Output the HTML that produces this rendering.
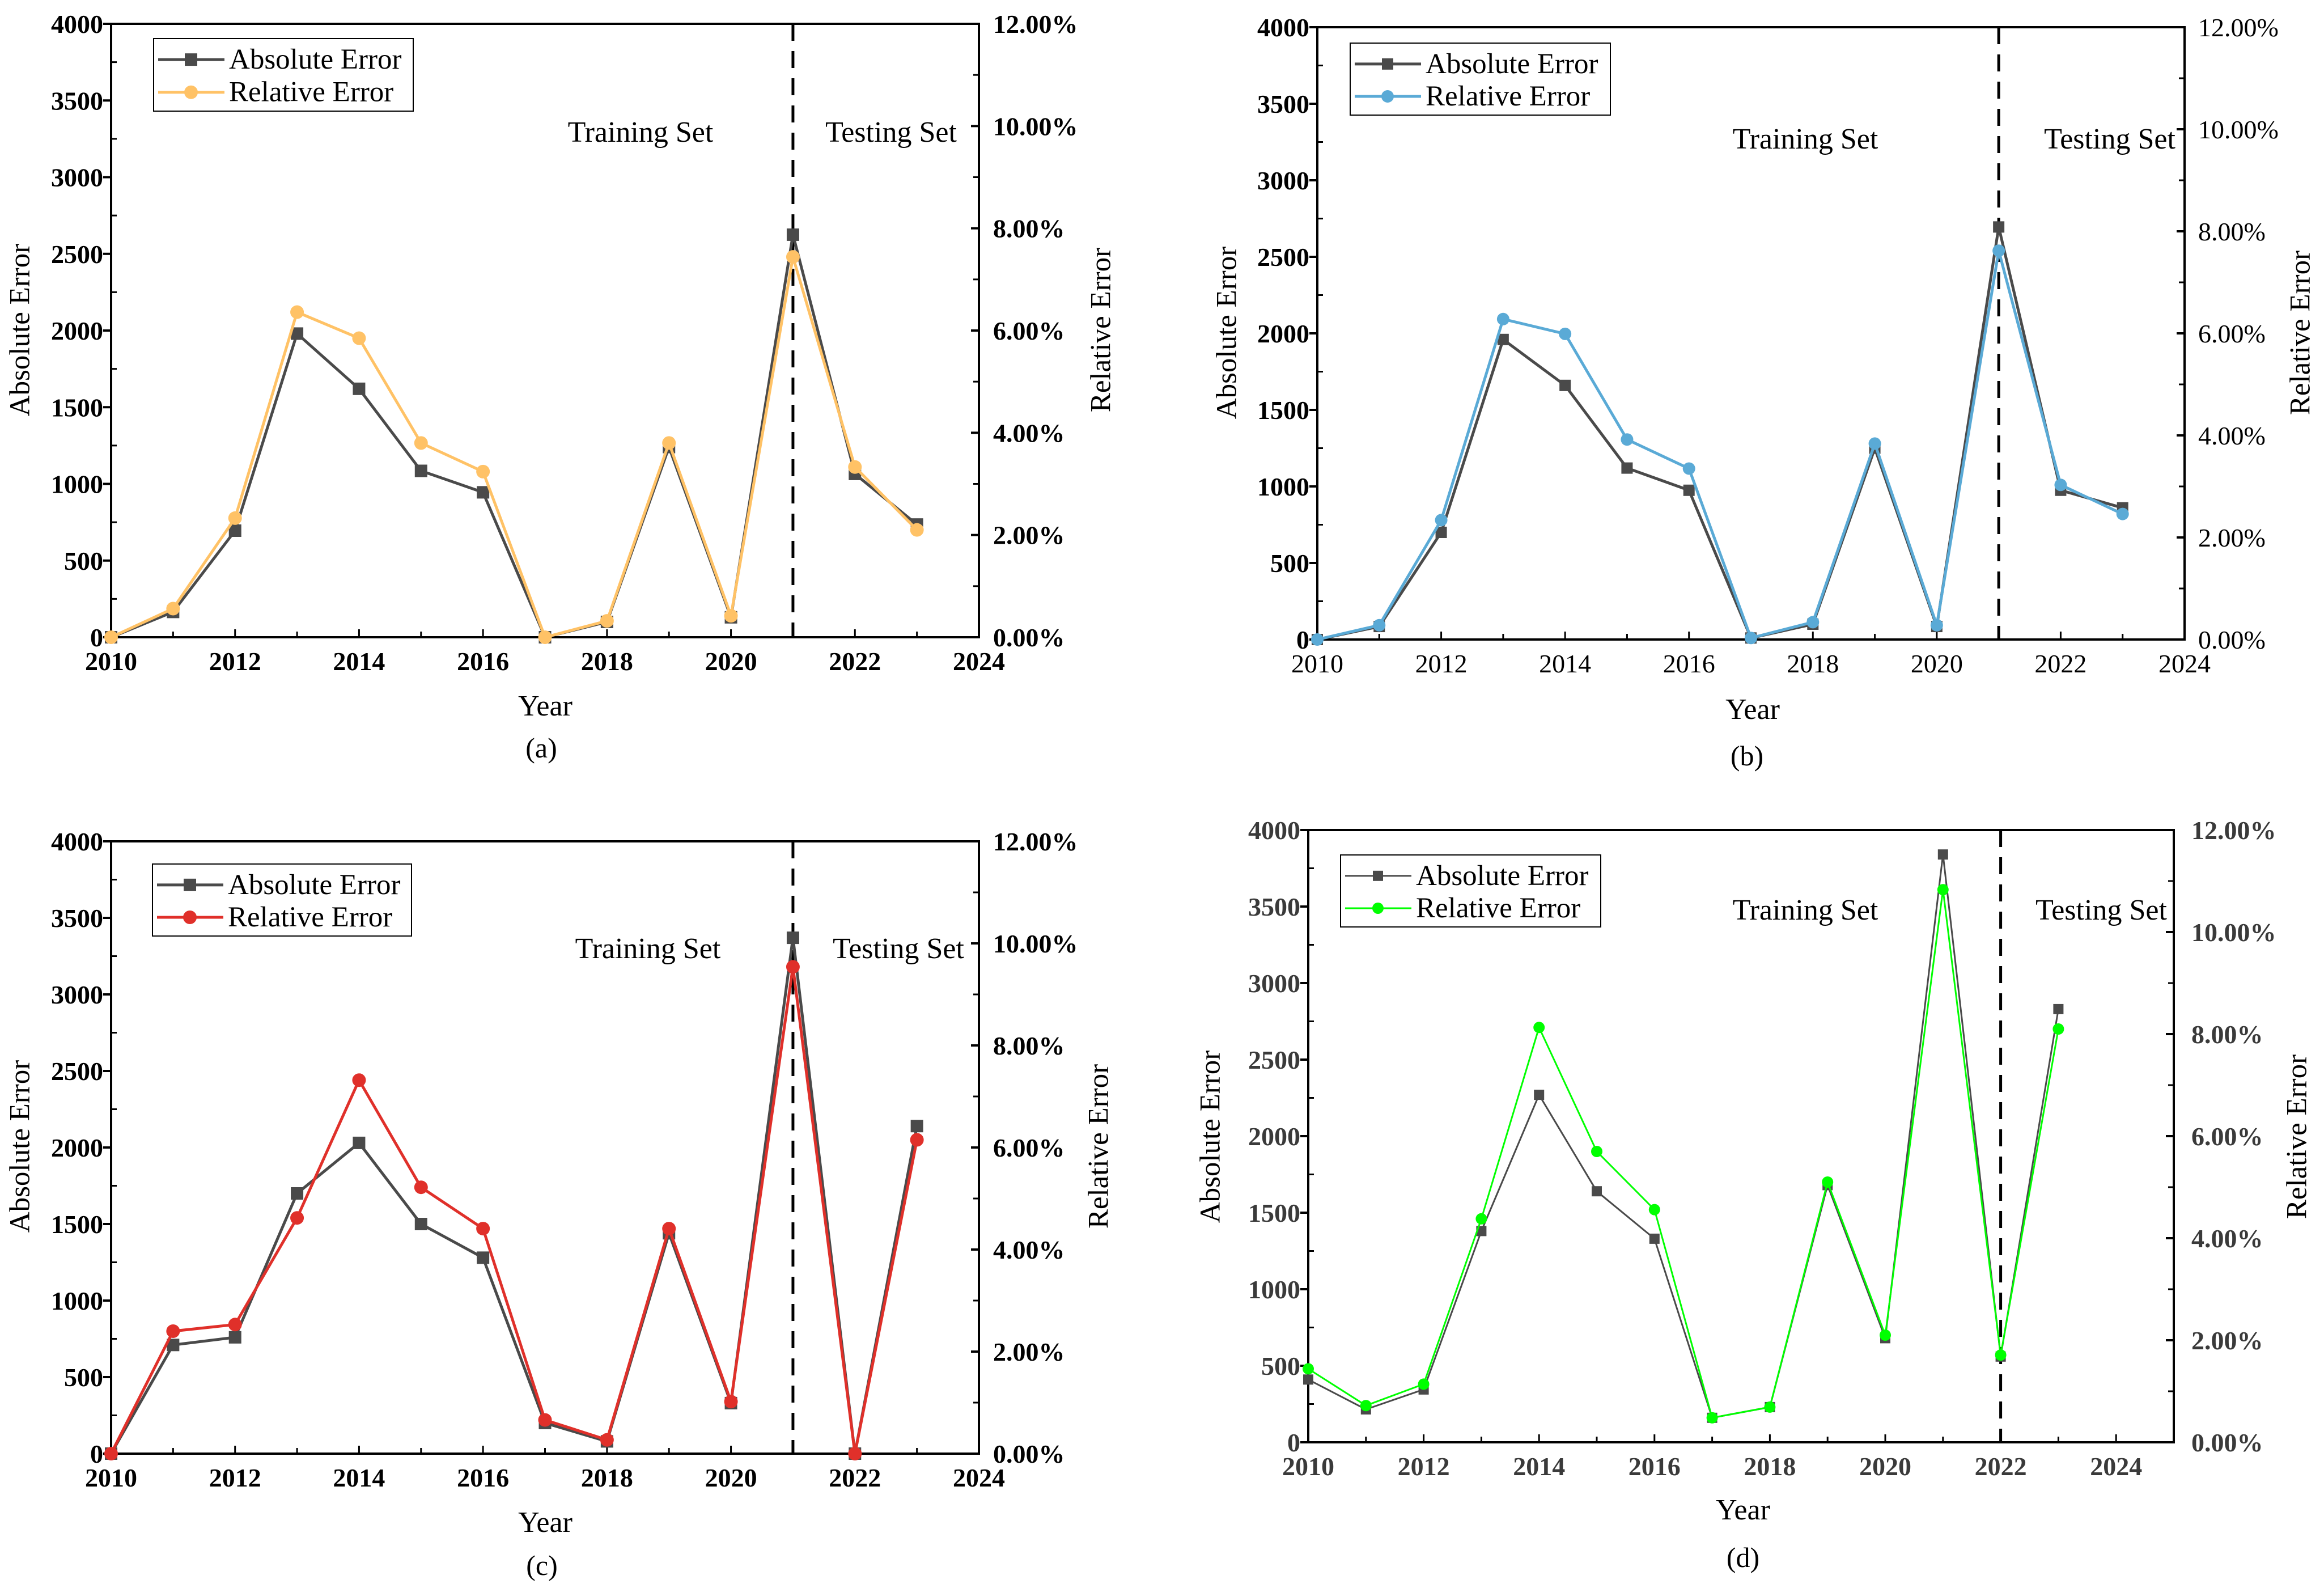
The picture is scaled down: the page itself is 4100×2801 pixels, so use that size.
<!DOCTYPE html>
<html><head><meta charset="utf-8"><style>
html,body{margin:0;padding:0;background:#fff}
svg{display:block;font-family:"Liberation Serif",serif}
</style></head><body>
<svg id="fig" width="4100" height="2801" viewBox="0 0 4100 2801" xmlns="http://www.w3.org/2000/svg"></svg>
<script>
const years=[2010,2011,2012,2013,2014,2015,2016,2017,2018,2019,2020,2021,2022,2023];
const absA=[0,165,695,1980,1620,1085,945,0,100,1240,130,2625,1065,735];
const relA=[0,0.56,2.33,6.36,5.85,3.8,3.24,0,0.32,3.8,0.42,7.44,3.33,2.1];
const absB=[0,85,700,1960,1660,1120,975,10,100,1250,85,2695,975,860];
const relB=[0,0.28,2.34,6.28,5.99,3.92,3.35,0.03,0.34,3.84,0.28,7.62,3.03,2.46];
const absC=[0,710,760,1700,2030,1500,1280,200,80,1440,330,3370,0,2140];
const relC=[0,2.4,2.53,4.62,7.32,5.22,4.41,0.66,0.27,4.41,1.02,9.54,0,6.15];
const absD=[410,215,345,1380,2270,1640,1330,160,230,1680,680,3840,560,2830];
const relD=[1.44,0.72,1.14,4.38,8.13,5.7,4.56,0.48,0.69,5.1,2.1,10.83,1.71,8.1];
const leftTicks=[0,500,1000,1500,2000,2500,3000,3500,4000];
const rightTicks=["0.00%","2.00%","4.00%","6.00%","8.00%","10.00%","12.00%"];
const xTicks=[2010,2012,2014,2016,2018,2020,2022,2024];

const NS="http://www.w3.org/2000/svg";
const svg=document.getElementById('fig');
function mk(tag,attrs,parent,text){const e=document.createElementNS(NS,tag);for(const k in attrs)e.setAttribute(k,attrs[k]);if(text!==undefined)e.textContent=text;(parent||svg).appendChild(e);return e;}

const panels=[
 {id:'a',L:196,R:1727,T:42,B:1124,xmax:2024,abs:absA,rel:relA,col:'#ffc266',lw:5,ms:11,div:2021,
  leg:[271,68,729,196],tr:[1130,250],te:[1572,250],at:[40,582],rt:[1947,582],yr:[962,1262],cap:[955,1336],rx:1752,lbold:true,rbold:true,xbold:true,tc:'#000'},
 {id:'b',L:2324,R:3854,T:48,B:1128,xmax:2024,abs:absB,rel:relB,col:'#5aaad6',lw:5,ms:10,div:2021,
  leg:[2382,76,2841,203],tr:[3185,262],te:[3722,262],at:[2169,587],rt:[4063,587],yr:[3092,1268],cap:[3082,1350],rx:3878,lbold:true,rbold:false,xbold:false,tc:'#000'},
 {id:'c',L:196,R:1727,T:1484,B:2564,xmax:2024,abs:absC,rel:relC,col:'#e0302a',lw:5,ms:11,div:2021,
  leg:[269,1524,726,1651],tr:[1143,1690],te:[1585,1690],at:[40,2022],rt:[1943,2022],yr:[962,2702],cap:[956,2778],rx:1752,lbold:true,rbold:true,xbold:true,tc:'#000'},
 {id:'d',L:2308,R:3835,T:1464,B:2544,xmax:2025,abs:absD,rel:relD,col:'#00ff00',lw:3,ms:9,div:2022,
  leg:[2365,1508,2824,1635],tr:[3185,1622],te:[3707,1622],at:[2140,2005],rt:[4057,2005],yr:[3075,2680],cap:[3075,2764],rx:3866,lbold:true,rbold:true,xbold:true,tc:'#3a3a3a'}
];

panels.forEach(p=>{
 const g=mk('g',{});
 
 
 const xs=y=>p.L+(y-2010)/(p.xmax-2010)*(p.R-p.L);
 const yl=v=>p.B-v/4000*(p.B-p.T);
 const yr=v=>p.B-v/12*(p.B-p.T);
 const fr=mk('rect',{x:p.L,y:p.T,width:p.R-p.L,height:p.B-p.T,fill:'none',stroke:'#000','stroke-width':4},g);
 
 
 leftTicks.forEach(v=>{
  mk('line',{x1:p.L-14,x2:p.L,y1:yl(v),y2:yl(v),stroke:'#000','stroke-width':4},g);
  const t=mk('text',{x:p.L-14,y:yl(v)+16,'text-anchor':'end','font-size':46,'font-weight':p.lbold?'bold':'normal',fill:p.tc},g,String(v));
  
  
 });
 for(let v=250;v<4000;v+=500) mk('line',{x1:p.L,x2:p.L+10,y1:yl(v),y2:yl(v),stroke:'#000','stroke-width':3},g);
 rightTicks.forEach((s,i)=>{
  const v=i*2;
  mk('line',{x1:p.R-14,x2:p.R,y1:yr(v),y2:yr(v),stroke:'#000','stroke-width':4},g);
  const t=mk('text',{x:p.rx,y:yr(v)+16,'text-anchor':'start','font-size':46,'font-weight':p.rbold?'bold':'normal',fill:p.tc},g,s);
  
  
 });
 for(let v=1;v<12;v+=2) mk('line',{x1:p.R-10,x2:p.R,y1:yr(v),y2:yr(v),stroke:'#000','stroke-width':3},g);
 for(let y=2010;y<=p.xmax;y++){
  const maj=(y%2===0);
  mk('line',{x1:xs(y),x2:xs(y),y1:p.B,y2:p.B-(maj?14:10),stroke:'#000','stroke-width':3},g);
 }
 xTicks.forEach(y=>{
  const t=mk('text',{x:xs(y),y:p.B+58,'text-anchor':'middle','font-size':46,'font-weight':p.xbold?'bold':'normal',fill:p.tc},g,String(y));
  
  
 });
 const dv=mk('line',{x1:xs(p.div),x2:xs(p.div),y1:p.T,y2:p.B,stroke:'#000','stroke-width':5,'stroke-dasharray':'30,18'},g);
 
 
 const absPts=p.abs.map((v,i)=>xs(years[i])+','+yl(v)).join(' ');
 const relPts=p.rel.map((v,i)=>xs(years[i])+','+yr(v)).join(' ');
 const la=mk('polyline',{points:absPts,fill:'none',stroke:'#4a4a4a','stroke-width':p.lw},g);
 
 
 p.abs.forEach((v,i)=>{
  const m=mk('rect',{x:xs(years[i])-p.ms,y:yl(v)-p.ms,width:p.ms*2,height:p.ms*2,fill:'#4a4a4a'},g);
  
  
 });
 const lr=mk('polyline',{points:relPts,fill:'none',stroke:p.col,'stroke-width':p.lw},g);
 
 
 p.rel.forEach((v,i)=>{
  const m=mk('circle',{cx:xs(years[i]),cy:yr(v),r:p.ms+1,fill:p.col},g);
  
  
 });
 const t1=mk('text',{x:p.tr[0],y:p.tr[1],'text-anchor':'middle','font-size':52},g,'Training Set');
 
 
 const t2=mk('text',{x:p.te[0],y:p.te[1],'text-anchor':'middle','font-size':52},g,'Testing Set');
 
 
 const [lx1,ly1,lx2,ly2]=p.leg;
 const lg=mk('g',{},g);
 
 
 mk('rect',{x:lx1,y:ly1,width:lx2-lx1,height:ly2-ly1,fill:'#fff',stroke:'#000','stroke-width':2},lg);
 const r1=ly1+(ly2-ly1)*0.29, r2=ly1+(ly2-ly1)*0.74;
 mk('line',{x1:lx1+8,x2:lx1+125,y1:r1,y2:r1,stroke:'#4a4a4a','stroke-width':p.lw},lg);
 mk('rect',{x:lx1+66-p.ms,y:r1-p.ms,width:p.ms*2,height:p.ms*2,fill:'#4a4a4a'},lg);
 const e1=mk('text',{x:lx1+133,y:r1+16,'font-size':51},lg,'Absolute Error');
 
 
 mk('line',{x1:lx1+8,x2:lx1+125,y1:r2,y2:r2,stroke:p.col,'stroke-width':p.lw},lg);
 mk('circle',{cx:lx1+66,cy:r2,r:p.ms+1,fill:p.col},lg);
 const e2=mk('text',{x:lx1+133,y:r2+16,'font-size':51},lg,'Relative Error');
 
 
 const at=mk('text',{x:p.at[0],y:p.at[1],'text-anchor':'middle','font-size':51,transform:`rotate(-90 ${p.at[0]} ${p.at[1]})`,'dominant-baseline':'middle'},g,'Absolute Error');
 
 
 const rt=mk('text',{x:p.rt[0],y:p.rt[1],'text-anchor':'middle','font-size':51,transform:`rotate(-90 ${p.rt[0]} ${p.rt[1]})`,'dominant-baseline':'middle'},g,'Relative Error');
 
 
 const yt=mk('text',{x:p.yr[0],y:p.yr[1],'text-anchor':'middle','font-size':52},g,'Year');
 
 
 const cp=mk('text',{x:p.cap[0],y:p.cap[1],'text-anchor':'middle','font-size':50},g,'('+p.id+')');
 
 
});
</script>
</body></html>
